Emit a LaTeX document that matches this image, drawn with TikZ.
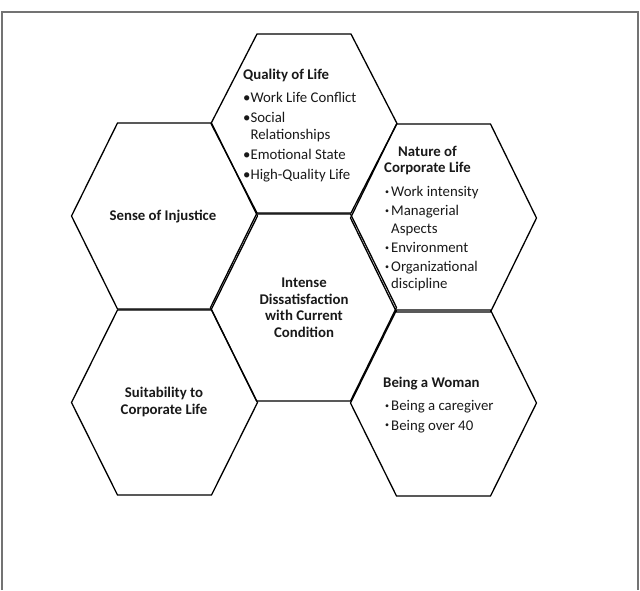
\documentclass[tikz,border=0pt]{standalone}
\usepackage{fontspec}
\setmainfont{Carlito}
\tikzset{
  hexline/.style={draw=black, line width=1.3pt, line join=miter},
  frameline/.style={draw=black!55, line width=1.3pt},
  txt/.style={inner sep=0pt, font=\fontsize{14.8}{17.3}\selectfont, text=black!90},
  boldtxt/.style={txt, font=\fontsize{14.8}{16.5}\selectfont\bfseries},
}
\newcommand{\myhex}[3]{%
  \draw[hexline] ({#1-93},#2) -- ({#1-47},{#2-#3}) -- ({#1+47},{#2-#3}) --
    ({#1+93},#2) -- ({#1+47},{#2+#3}) -- ({#1-47},{#2+#3}) -- cycle;}
\newcommand{\smb}{\makebox[6pt][l]{\raisebox{2.6pt}{\fontsize{8}{8}\selectfont •}}}
\begin{document}
\begin{tikzpicture}[x=1pt,y=-1pt]
\useasboundingbox (0,0) rectangle (640,590);
% frame
\draw[frameline] (2,590) -- (2,12) -- (638,12) -- (638,590);
% hexagons
\myhex{304}{123.5}{89.5}
\myhex{443.5}{218}{94}
\myhex{164.5}{216}{93}
\myhex{303.5}{307.5}{93.5}
\myhex{164.5}{402.5}{92.5}
\myhex{443.5}{403}{93}
% Quality of Life
\node[txt, anchor=north west, align=left] (qol) at (243,69)
  {\textbf{Quality of Life}\\[5.5pt]
   •Work Life Conflict\\[2.5pt]
   •Social\\
   \phantom{•}Relationships\\[2.5pt]
   •Emotional State\\[2.5pt]
   •High-Quality Life};
% Nature of Corporate Life
\node[boldtxt, align=center] (ncltitle) at (427.5,160.5)
  {Nature of\\Corporate Life};
\node[txt, anchor=north west, align=left] (ncllist) at (385,186.5)
  {\smb Work intensity\\[1.5pt]
   \smb Managerial\\
   \hspace{6pt}Aspects\\[2.5pt]
   \smb Environment\\[1.5pt]
   \smb Organizational\\[-0.5pt]
   \hspace{6pt}discipline};
% Sense of Injustice
\node[boldtxt] (soi) at (163,217) {Sense of Injustice};
% Center
\node[boldtxt, align=center] (ids) at (304,307.5)
  {Intense\\Dissatisfaction\\with Current\\Condition};
% Suitability
\node[boldtxt, align=center] (suit) at (164,402)
  {Suitability to\\Corporate Life};
% Being a Woman
\node[txt, anchor=north west, align=left] (woman) at (383,377)
  {\textbf{Being a Woman}\\[6pt]
   \hspace{2pt}\smb Being a caregiver\\[2pt]
   \hspace{2pt}\smb Being over 40};
\end{tikzpicture}
\end{document}
